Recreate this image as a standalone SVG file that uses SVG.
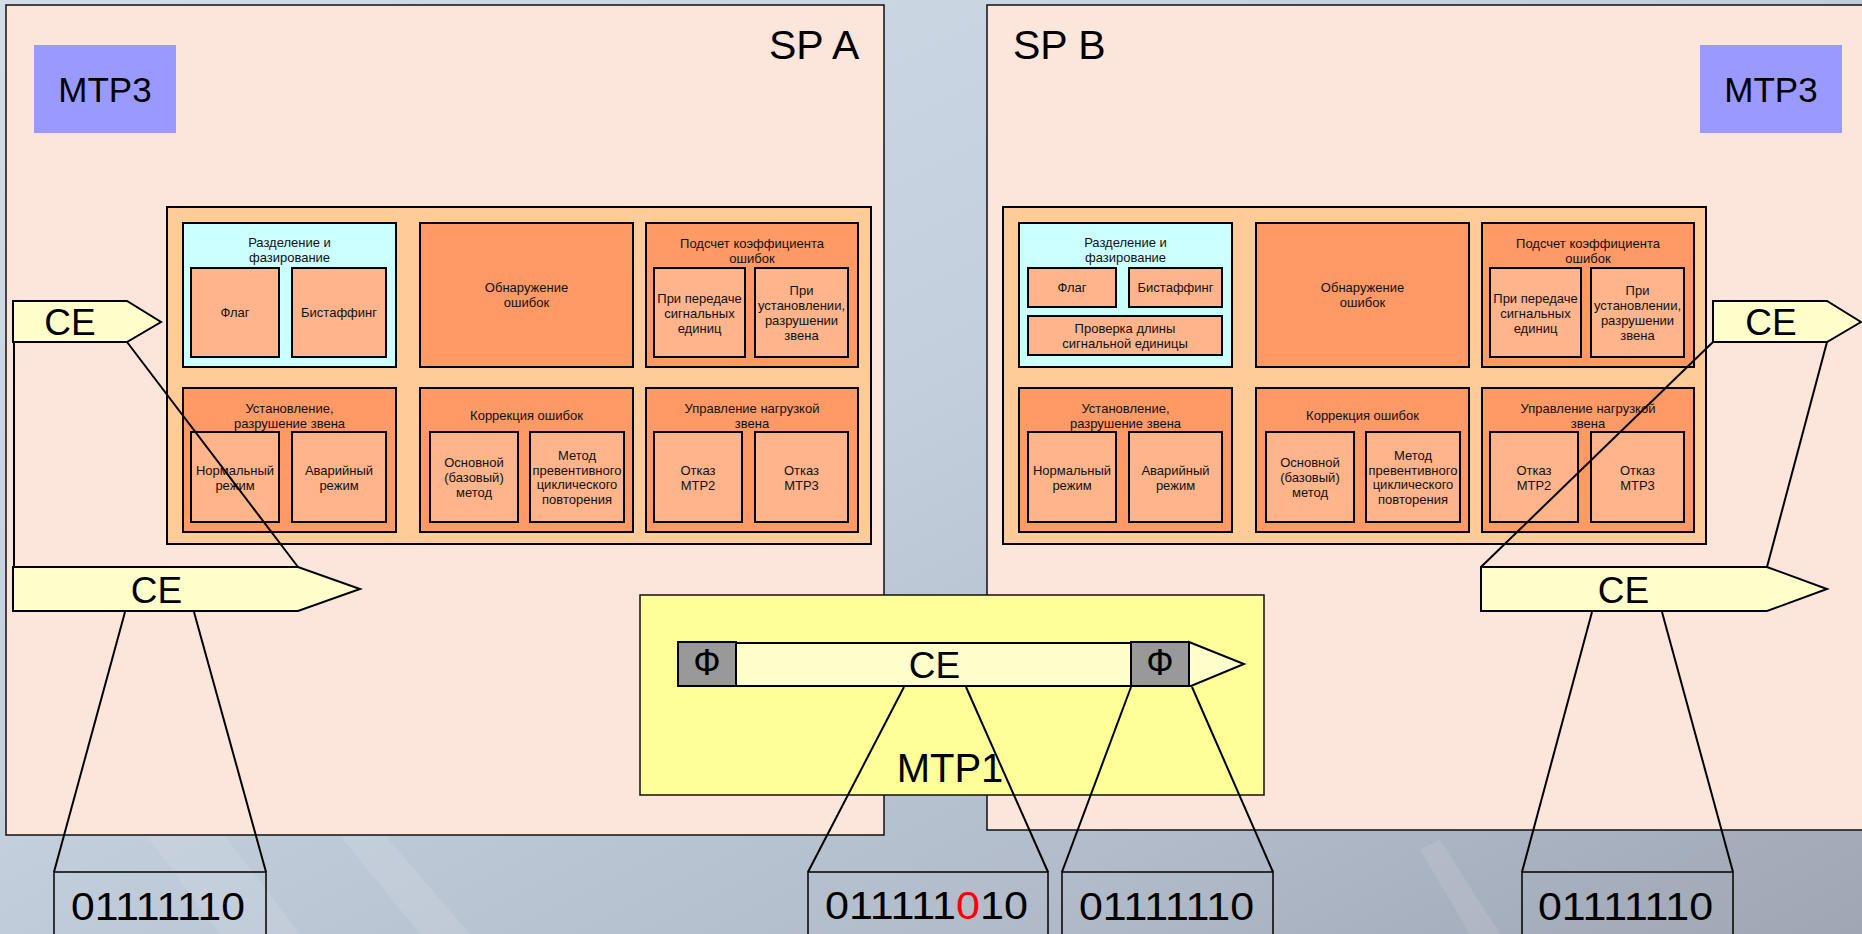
<svg xmlns="http://www.w3.org/2000/svg" width="1862" height="934" viewBox="0 0 1862 934">
<defs>
<linearGradient id="bg" x1="0" y1="0" x2="1" y2="1">
<stop offset="0" stop-color="#d3dde9"/>
<stop offset="0.45" stop-color="#c3cfdd"/>
<stop offset="0.75" stop-color="#b2bccb"/>
<stop offset="1" stop-color="#9fa6b4"/>
</linearGradient>
<style>
.sp{fill:#fce5da;stroke:#111;stroke-width:1.5}
.panel{fill:#ffcc99;stroke:#000;stroke-width:2}
.cy{fill:#ccffff;stroke:#000;stroke-width:2}
.grp{fill:#ff9966;stroke:#000;stroke-width:2}
.inner{fill:#ffb48c;stroke:#000;stroke-width:2}
.mtp3{fill:#9999ff}
.ce{fill:#ffffcc;stroke:#000;stroke-width:2;stroke-linejoin:miter}
.phi{fill:#999999;stroke:#000;stroke-width:2}
.mtp1{fill:#ffff99;stroke:#111;stroke-width:1.5}
.bits{fill:none;stroke:#000;stroke-width:1.5}
.ln{stroke:#000;stroke-width:2;fill:none}
.t{font-family:"Liberation Sans",Arial,sans-serif;font-size:13px;text-anchor:middle;fill:#111}
.big{font-family:"Liberation Sans",Arial,sans-serif;font-size:37px;text-anchor:middle;fill:#000}
.lbl{font-family:"Liberation Sans",Arial,sans-serif;font-size:35px;fill:#000}
.bt{font-family:"Liberation Sans",Arial,sans-serif;font-size:39px;fill:#000}
</style>
</defs>
<rect x="0" y="0" width="1862" height="934" fill="url(#bg)"/>
<g opacity="0.1" fill="#ffffff">
<polygon points="120,700 300,934 220,934 60,720"/>
<polygon points="260,690 470,934 420,934 230,700"/>
<polygon points="1440,840 1500,934 1470,934 1420,850"/>
</g>

<g id="spA">
<rect class="sp" x="6" y="5" width="878" height="830"/>
<text class="lbl" x="769" y="59" style="font-size:41px">SP A</text>
</g>
<g id="spB">
<rect class="sp" x="987" y="5" width="890" height="825"/>
<text class="lbl" x="1013" y="59" style="font-size:41px">SP B</text>
</g>

<g id="mtp3A">
<rect class="mtp3" x="34" y="45" width="142" height="88"/>
<text class="lbl" x="105" y="102" text-anchor="middle">MTP3</text>
</g>
<g id="mtp3B">
<rect class="mtp3" x="1700" y="45" width="142" height="88"/>
<text class="lbl" x="1771" y="102" text-anchor="middle">MTP3</text>
</g>

<g id="mtp2A">
<rect class="panel" x="167" y="207" width="704" height="337"/>
<g id="A-split">
<rect class="cy" x="183" y="223" width="213" height="144"/>
<text class="t" x="289.5" y="247">Разделение и</text>
<text class="t" x="289.5" y="262">фазирование</text>
<rect class="inner" x="191" y="268" width="88" height="89"/>
<text class="t" x="235" y="317">Флаг</text>
<rect class="inner" x="292" y="268" width="94" height="89"/>
<text class="t" x="339" y="317">Бистаффинг</text>
</g>
<g id="A-detect">
<rect class="grp" x="420" y="223" width="213" height="144"/>
<text class="t" x="526.5" y="292">Обнаружение</text>
<text class="t" x="526.5" y="307">ошибок</text>
</g>
<g id="A-rate">
<rect class="grp" x="646" y="223" width="212" height="144"/>
<text class="t" x="752" y="248">Подсчет коэффициента</text>
<text class="t" x="752" y="263">ошибок</text>
<rect class="inner" x="654" y="268" width="91" height="89"/>
<text class="t" x="699.5" y="303">При передаче</text>
<text class="t" x="699.5" y="318">сигнальных</text>
<text class="t" x="699.5" y="333">единиц</text>
<rect class="inner" x="755" y="268" width="93" height="89"/>
<text class="t" x="801.5" y="295">При</text>
<text class="t" x="801.5" y="310">установлении,</text>
<text class="t" x="801.5" y="325">разрушении</text>
<text class="t" x="801.5" y="340">звена</text>
</g>
<g id="A-link">
<rect class="grp" x="183" y="388" width="213" height="144"/>
<text class="t" x="289.5" y="413">Установление,</text>
<text class="t" x="289.5" y="428">разрушение звена</text>
<rect class="inner" x="191" y="432" width="88" height="90"/>
<text class="t" x="235" y="475">Нормальный</text>
<text class="t" x="235" y="490">режим</text>
<rect class="inner" x="292" y="432" width="94" height="90"/>
<text class="t" x="339" y="475">Аварийный</text>
<text class="t" x="339" y="490">режим</text>
</g>
<g id="A-corr">
<rect class="grp" x="420" y="388" width="213" height="144"/>
<text class="t" x="526.5" y="420">Коррекция ошибок</text>
<rect class="inner" x="430" y="432" width="88" height="90"/>
<text class="t" x="474" y="467">Основной</text>
<text class="t" x="474" y="482">(базовый)</text>
<text class="t" x="474" y="497">метод</text>
<rect class="inner" x="530" y="432" width="94" height="90"/>
<text class="t" x="577" y="460">Метод</text>
<text class="t" x="577" y="474.5">превентивного</text>
<text class="t" x="577" y="489">циклического</text>
<text class="t" x="577" y="504">повторения</text>
</g>
<g id="A-load">
<rect class="grp" x="646" y="388" width="212" height="144"/>
<text class="t" x="752" y="413">Управление нагрузкой</text>
<text class="t" x="752" y="428">звена</text>
<rect class="inner" x="654" y="432" width="88" height="90"/>
<text class="t" x="698" y="475">Отказ</text>
<text class="t" x="698" y="490">MTP2</text>
<rect class="inner" x="755" y="432" width="93" height="90"/>
<text class="t" x="801.5" y="475">Отказ</text>
<text class="t" x="801.5" y="490">MTP3</text>
</g>
</g>

<g id="mtp2B">
<rect class="panel" x="1003" y="207" width="703" height="337"/>
<g id="B-split">
<rect class="cy" x="1019" y="223" width="213" height="144"/>
<text class="t" x="1125.5" y="247">Разделение и</text>
<text class="t" x="1125.5" y="262">фазирование</text>
<rect class="inner" x="1028" y="268" width="88" height="39"/>
<text class="t" x="1072" y="292">Флаг</text>
<rect class="inner" x="1129" y="268" width="93" height="39"/>
<text class="t" x="1175.5" y="292">Бистаффинг</text>
<rect class="inner" x="1028" y="316" width="194" height="39"/>
<text class="t" x="1125" y="333">Проверка длины</text>
<text class="t" x="1125" y="348">сигнальной единицы</text>
</g>
<g id="B-detect">
<rect class="grp" x="1256" y="223" width="213" height="144"/>
<text class="t" x="1362.5" y="292">Обнаружение</text>
<text class="t" x="1362.5" y="307">ошибок</text>
</g>
<g id="B-rate">
<rect class="grp" x="1482" y="223" width="212" height="144"/>
<text class="t" x="1588" y="248">Подсчет коэффициента</text>
<text class="t" x="1588" y="263">ошибок</text>
<rect class="inner" x="1490" y="268" width="91" height="89"/>
<text class="t" x="1535.5" y="303">При передаче</text>
<text class="t" x="1535.5" y="318">сигнальных</text>
<text class="t" x="1535.5" y="333">единиц</text>
<rect class="inner" x="1591" y="268" width="93" height="89"/>
<text class="t" x="1637.5" y="295">При</text>
<text class="t" x="1637.5" y="310">установлении,</text>
<text class="t" x="1637.5" y="325">разрушении</text>
<text class="t" x="1637.5" y="340">звена</text>
</g>
<g id="B-link">
<rect class="grp" x="1019" y="388" width="213" height="144"/>
<text class="t" x="1125.5" y="413">Установление,</text>
<text class="t" x="1125.5" y="428">разрушение звена</text>
<rect class="inner" x="1028" y="432" width="88" height="90"/>
<text class="t" x="1072" y="475">Нормальный</text>
<text class="t" x="1072" y="490">режим</text>
<rect class="inner" x="1129" y="432" width="93" height="90"/>
<text class="t" x="1175.5" y="475">Аварийный</text>
<text class="t" x="1175.5" y="490">режим</text>
</g>
<g id="B-corr">
<rect class="grp" x="1256" y="388" width="213" height="144"/>
<text class="t" x="1362.5" y="420">Коррекция ошибок</text>
<rect class="inner" x="1266" y="432" width="88" height="90"/>
<text class="t" x="1310" y="467">Основной</text>
<text class="t" x="1310" y="482">(базовый)</text>
<text class="t" x="1310" y="497">метод</text>
<rect class="inner" x="1366" y="432" width="94" height="90"/>
<text class="t" x="1413" y="460">Метод</text>
<text class="t" x="1413" y="474.5">превентивного</text>
<text class="t" x="1413" y="489">циклического</text>
<text class="t" x="1413" y="504">повторения</text>
</g>
<g id="B-load">
<rect class="grp" x="1482" y="388" width="212" height="144"/>
<text class="t" x="1588" y="413">Управление нагрузкой</text>
<text class="t" x="1588" y="428">звена</text>
<rect class="inner" x="1490" y="432" width="88" height="90"/>
<text class="t" x="1534" y="475">Отказ</text>
<text class="t" x="1534" y="490">MTP2</text>
<rect class="inner" x="1591" y="432" width="93" height="90"/>
<text class="t" x="1637.5" y="475">Отказ</text>
<text class="t" x="1637.5" y="490">MTP3</text>
</g>
</g>

<g id="mtp1">
<rect class="mtp1" x="640" y="595" width="624" height="200"/>
<text class="big" x="950" y="782" style="font-size:40px">MTP1</text>
</g>

<g id="frame">
<polygon class="ce" points="736,643 1131,643 1131,686 736,686"/>
<polygon class="ce" points="1189,642 1244,664 1191,686 1189,686"/>
<rect class="phi" x="678" y="642" width="58" height="44"/>
<rect class="phi" x="1131" y="642" width="58" height="44"/>
<text class="big" x="707" y="675" style="font-size:36px">Ф</text>
<text class="big" x="1160" y="675" style="font-size:36px">Ф</text>
<text class="big" x="934.5" y="678">CE</text>
</g>

<g id="ceA-small">
<polygon class="ce" points="13,301 127,301 161,322 127,342 13,342"/>
<text class="big" x="70" y="335">CE</text>
</g>
<g id="ceA-big">
<polygon class="ce" points="13,567 298,567 360,589 298,611 13,611"/>
<text class="big" x="156.5" y="603">CE</text>
</g>
<g id="ceB-small">
<polygon class="ce" points="1713,301 1827,301 1861,322 1827,342 1713,342"/>
<text class="big" x="1771" y="335">CE</text>
</g>
<g id="ceB-big">
<polygon class="ce" points="1481,567 1767,567 1827,589 1767,611 1481,611"/>
<text class="big" x="1623.5" y="603">CE</text>
</g>

<g id="bitsA">
<rect class="bits" x="54" y="872" width="212" height="80"/>
<text class="bt" x="71" y="920" textLength="174" lengthAdjust="spacingAndGlyphs">01111110</text>
</g>
<g id="bitsStuffed">
<rect class="bits" x="808" y="872" width="240" height="80"/>
<text class="bt" x="825" y="919" textLength="203" lengthAdjust="spacingAndGlyphs">011111<tspan fill="#ff0000">0</tspan>10</text>
</g>
<g id="bitsFlag">
<rect class="bits" x="1062" y="872" width="211" height="80"/>
<text class="bt" x="1079" y="920" textLength="175" lengthAdjust="spacingAndGlyphs">01111110</text>
</g>
<g id="bitsB">
<rect class="bits" x="1522" y="872" width="211" height="80"/>
<text class="bt" x="1538" y="920" textLength="175" lengthAdjust="spacingAndGlyphs">01111110</text>
</g>

<g id="connectors">
<line class="ln" x1="14" y1="342" x2="14" y2="567"/>
<line class="ln" x1="127" y1="342" x2="298" y2="567"/>
<line class="ln" x1="125" y1="612" x2="54" y2="872"/>
<line class="ln" x1="194" y1="612" x2="266" y2="872"/>
<line class="ln" x1="1713" y1="342" x2="1481" y2="567"/>
<line class="ln" x1="1827" y1="342" x2="1767" y2="567"/>
<line class="ln" x1="1592" y1="612" x2="1522" y2="872"/>
<line class="ln" x1="1662" y1="612" x2="1733" y2="872"/>
<line class="ln" x1="904" y1="687" x2="808" y2="872"/>
<line class="ln" x1="966" y1="687" x2="1048" y2="872"/>
<line class="ln" x1="1131" y1="687" x2="1062" y2="872"/>
<line class="ln" x1="1192" y1="687" x2="1273" y2="872"/>
</g>
</svg>
